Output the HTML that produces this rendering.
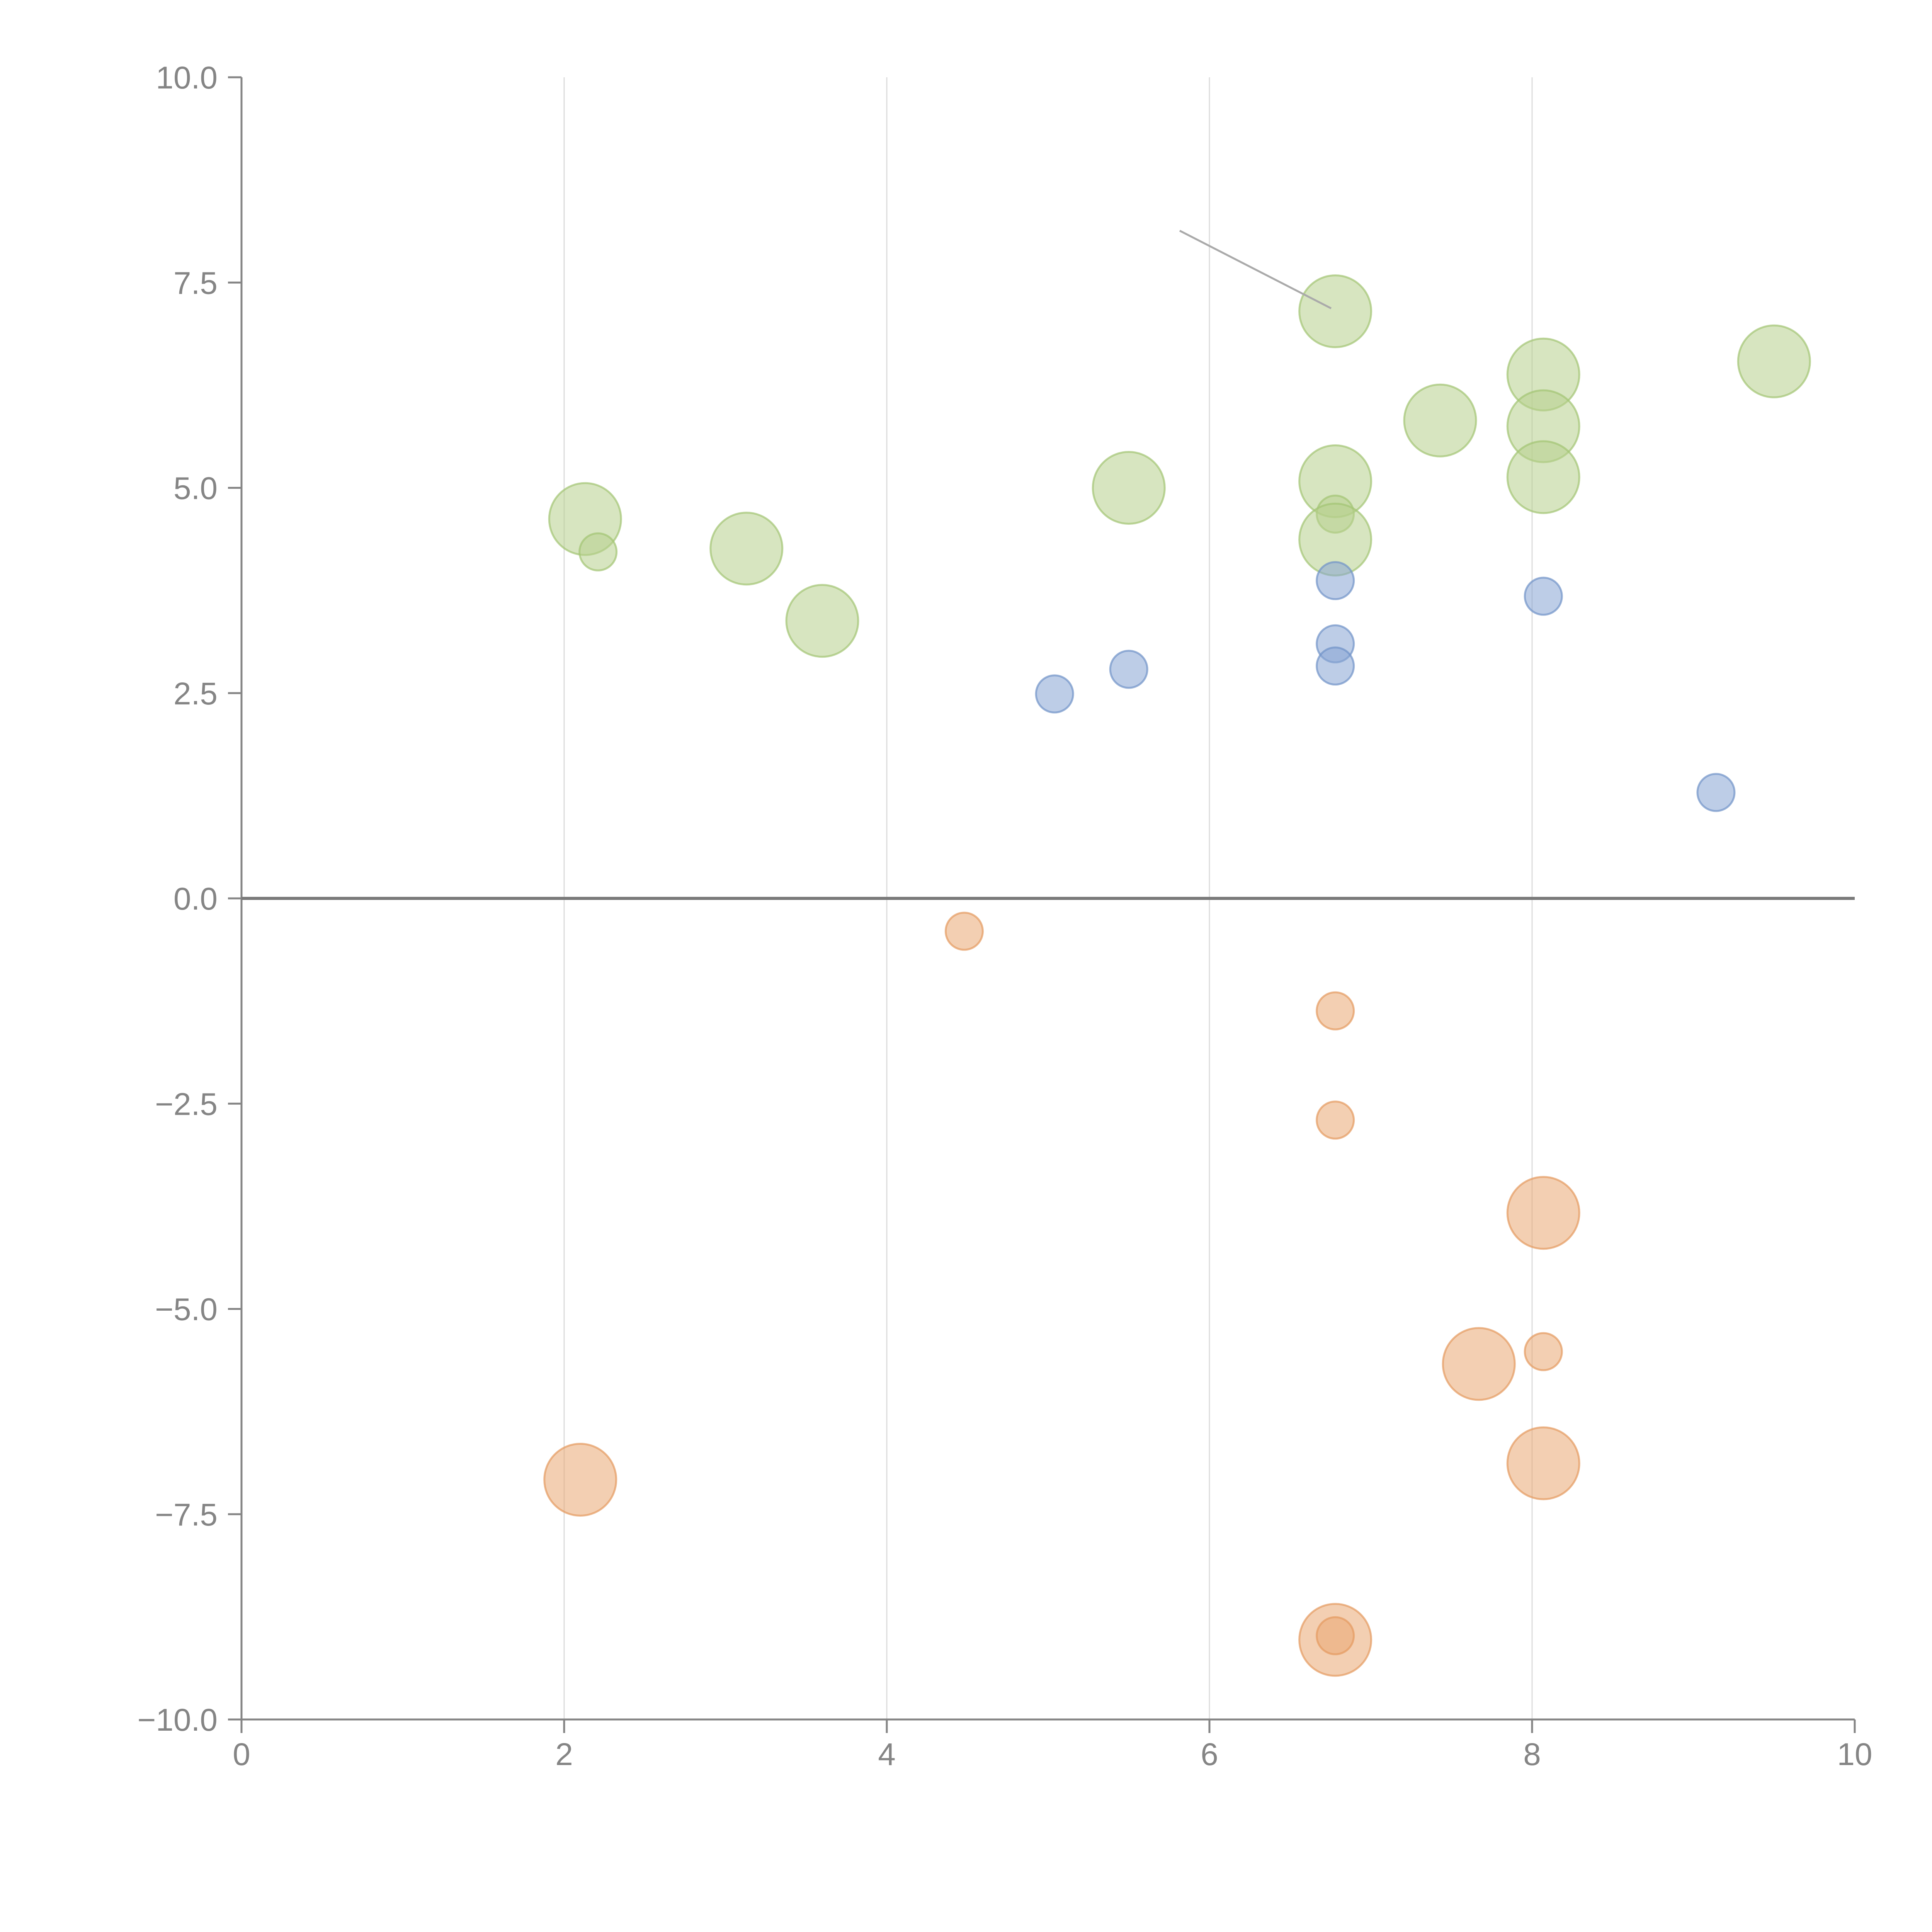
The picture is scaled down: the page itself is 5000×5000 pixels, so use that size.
<!DOCTYPE html>
<html><head><meta charset="utf-8"><style>html,body{margin:0;padding:0;background:#fff}svg{display:block}</style></head>
<body>
<svg id="chart" width="5000" height="5000" viewBox="0 0 5000 5000" xmlns="http://www.w3.org/2000/svg" font-family="Liberation Sans, sans-serif">
<g id="grid"></g><g id="axes"></g><g id="marks"></g>
<line x1="3053" y1="597" x2="3445" y2="798" stroke="#aaa" stroke-width="5"/>
</svg>
<script>
const xTicks=[0,2,4,6,8,10];
const yTicks=[-10,-7.5,-5,-2.5,0,2.5,5,7.5,10];
const greenX=[2.13,2.21,3.13,3.6,5.5,6.78,6.78,6.78,6.78,7.43,8.07,8.07,8.07,9.5];
const greenY=[4.62,4.22,4.26,3.38,5.0,7.15,5.08,4.68,4.37,5.82,6.38,5.75,5.13,6.54];
const greenS=[2,1,2,2,2,2,2,1,2,2,2,2,2,2];
const blueX=[5.04,5.5,6.78,6.78,6.78,8.07,9.14];
const blueY=[2.49,2.79,3.87,3.1,2.83,3.68,1.29];
const blueS=[1,1,1,1,1,1,1];
const orangeX=[4.48,6.78,6.78,8.07,7.67,8.07,8.07,2.1,6.78,6.78];
const orangeY=[-0.4,-1.37,-2.7,-3.83,-5.67,-5.52,-6.88,-7.08,-9.03,-8.98];
const orangeS=[1,1,1,2,2,1,2,2,2,1];
const NS='http://www.w3.org/2000/svg';
const X0=625,X1=4800,Y0=4450,Y1=200;
const sx=v=>X0+(v-0)/10*(X1-X0);
const sy=v=>Y0-(v+10)/20*(Y0-Y1);
const sr=s=>s===2?93:48;
function mk(tag,attrs,parent){const e=document.createElementNS(NS,tag);for(const k in attrs)e.setAttribute(k,attrs[k]);parent.appendChild(e);return e;}
const grid=document.getElementById('grid'),axes=document.getElementById('axes'),marks=document.getElementById('marks');
xTicks.forEach(t=>{
  if(t>0&&t<10){const g=mk('line',{x1:sx(t),x2:sx(t),y1:Y1,y2:Y0,stroke:'#dcdcdc','stroke-width':3},grid);
  
  }
  const tk=mk('line',{x1:sx(t),x2:sx(t),y1:Y0,y2:Y0+35,stroke:'#858585','stroke-width':5},axes);
  
  
  const tx=mk('text',{x:sx(t),y:Y0+118,'text-anchor':'middle','font-size':82,fill:'#858585'},axes);tx.textContent=t;
  
  
});
yTicks.forEach(t=>{
  const tk=mk('line',{x1:X0-35,x2:X0,y1:sy(t),y2:sy(t),stroke:'#858585','stroke-width':5},axes);
  
  
  const tx=mk('text',{x:X0-62,y:sy(t)+29,'text-anchor':'end','font-size':82,fill:'#858585'},axes);tx.textContent=(t<0?'\u2212':'')+Math.abs(t).toFixed(1);
  
  
});
const ya=mk('line',{x1:X0,x2:X0,y1:Y1,y2:Y0,stroke:'#858585','stroke-width':5},axes);


const xa=mk('line',{x1:X0,x2:X1,y1:Y0,y2:Y0,stroke:'#858585','stroke-width':5},axes);


const zl=mk('line',{x1:X0,x2:X1,y1:sy(0),y2:sy(0),stroke:'#7a7a7a','stroke-width':8},axes);


function series(xs,ys,ss,fill,stroke,name){
  xs.forEach((x,i)=>{
    const c=mk('circle',{cx:sx(x),cy:sy(ys[i]),r:sr(ss[i]),fill:fill,'fill-opacity':0.55,stroke:stroke,'stroke-width':5,'stroke-opacity':0.7},marks);
    
    
  });
}
series(greenX,greenY,greenS,'#b6d08c','#a3c474','green-bubble');
series(blueX,blueY,blueS,'#86a4d4','#7193c8','blue-bubble');
series(orangeX,orangeY,orangeS,'#e9a772','#e49a60','orange-bubble');
</script>
</body></html>
